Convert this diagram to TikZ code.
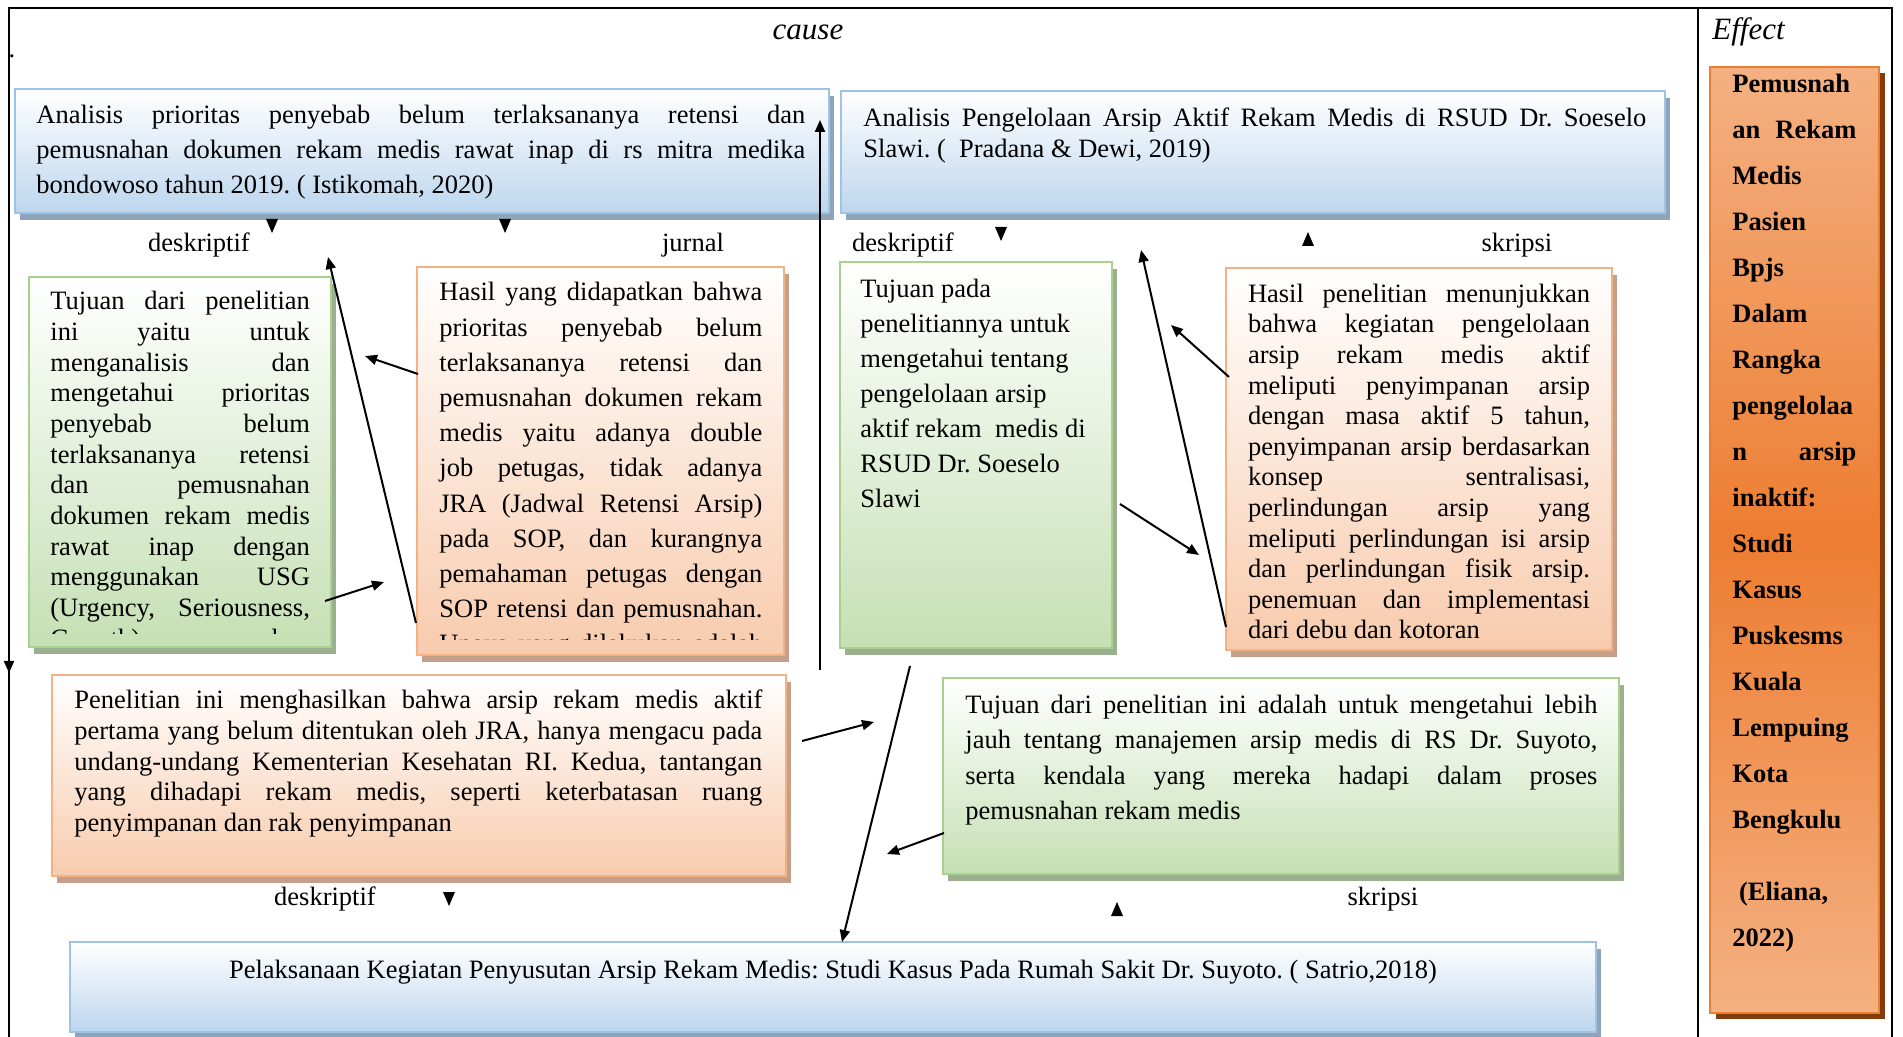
\documentclass[tikz,border=0pt]{standalone}
\usepackage{fontspec}
\setmainfont{Liberation Serif}
\frenchspacing
\usetikzlibrary{arrows.meta,fit,shadows}
\definecolor{bluebot}{HTML}{BDD6EE}
\definecolor{blueline}{HTML}{9DC3E6}
\definecolor{blueshadow}{HTML}{8FA4B8}
\definecolor{greenbot}{HTML}{C5E0B4}
\definecolor{greenline}{HTML}{A9D18E}
\definecolor{greenshadow}{HTML}{9CAF91}
\definecolor{orangebot}{HTML}{F8CBAD}
\definecolor{orangeline}{HTML}{F4B183}
\definecolor{orangeshadow}{HTML}{C4A08B}
\definecolor{effmid}{HTML}{ED7D31}
\definecolor{effedge}{HTML}{F4B183}
\definecolor{effshadow}{HTML}{843C0C}
\newcommand{\jtext}[2]{\vtop{\hsize=#1\relax #2}}
\newcommand{\J}[1]{\hbox to\hsize{#1}}
\newcommand{\N}[1]{\hbox{#1}}
\newcommand{\fs}[1]{\fontsize{13.25}{#1}\selectfont\frenchspacing}
\tikzset{
  boxbase/.style={inner sep=0pt, line width=1pt},
  bluebox/.style={boxbase, draw=blueline, top color=white, bottom color=bluebot,
    drop shadow={shadow xshift=2.5pt, shadow yshift=-3.5pt, fill=blueshadow, opacity=1}},
  greenbox/.style={boxbase, draw=greenline, top color=white, bottom color=greenbot,
    drop shadow={shadow xshift=2.5pt, shadow yshift=-3.5pt, fill=greenshadow, opacity=1}},
  orangebox/.style={boxbase, draw=orangeline, top color=white, bottom color=orangebot,
    drop shadow={shadow xshift=2.5pt, shadow yshift=-3.5pt, fill=orangeshadow, opacity=1}},
  effbox/.style={boxbase, draw=effmid, top color=effedge, bottom color=effedge, middle color=effmid,
    drop shadow={shadow xshift=3pt, shadow yshift=-3pt, fill=effshadow, opacity=1}},
  txt/.style={inner sep=0pt, anchor=base west},
  lbl/.style={inner sep=0pt, font=\fs{16}},
  ital/.style={inner sep=0pt, font=\fontsize{15.5}{18}\selectfont\itshape},
  frame/.style={line width=1.2pt},
  arr/.style={line width=1pt, -{Triangle[length=6pt,width=5pt]}},
  tridown/.pic={\fill (-6,-7) -- (6,-7) -- (0,7) -- cycle;},
  triup/.pic={\fill (-6,7) -- (6,7) -- (0,-7) -- cycle;}
}
\begin{document}
\begin{tikzpicture}[x=0.5pt,y=-0.5pt]
\useasboundingbox (0,0) rectangle (1903,1037);
% frame
\draw[frame] (1892,1037) -- (1892,8) -- (9,8) -- (9,1037);
\draw[frame] (1698,8) -- (1698,1037);
\node[ital] (cause) at (808,32) {cause};
\node[ital, anchor=west] (effect) at (1712,32) {Effect};
\node[inner sep=0pt, font=\fs{16}] (dot) at (12,56) {.};

% boxes
\node[bluebox, fit={(15,89) (829,213)}] (A) {};
\node[bluebox, fit={(841,91) (1665,213)}] (B) {};
\node[greenbox, fit={(29,277) (331,647)}] (C) {};
\node[orangebox, fit={(417,267) (784,655)}] (D) {};
\node[greenbox, fit={(840,262) (1112,648)}] (E) {};
\node[orangebox, fit={(1226,268) (1612,650)}] (F) {};
\node[orangebox, fit={(52,675) (786,876)}] (G) {};
\node[greenbox, fit={(943,678) (1619,874)}] (H) {};
\node[bluebox, fit={(70,942) (1596,1032)}] (I) {};
\node[effbox, fit={(1710,67) (1879,1013)}] (J) {};

% texts
\node[txt, font=\fs{17.3}] (At) at (36,124) {\jtext{384.5pt}{%
\J{Analisis prioritas penyebab belum terlaksananya retensi dan}
\J{pemusnahan dokumen rekam medis rawat inap di rs mitra medika}
\N{bondowoso tahun 2019. ( Istikomah, 2020)}}};
\node[txt, font=\fs{15.75}] (Bt) at (863,126.5) {\jtext{391.5pt}{%
\J{Analisis Pengelolaan Arsip Aktif Rekam Medis di RSUD Dr. Soeselo}
\N{Slawi. (\ \ Pradana \& Dewi, 2019)}}};
\begin{scope}
\clip (29,277) rectangle (331,634);
\node[txt, font=\fs{15.35}] (Ct) at (50,309.7) {\jtext{129.75pt}{%
\J{Tujuan dari penelitian}
\J{ini yaitu untuk}
\J{menganalisis dan}
\J{mengetahui prioritas}
\J{penyebab belum}
\J{terlaksananya retensi}
\J{dan pemusnahan}
\J{dokumen rekam medis}
\J{rawat inap dengan}
\J{menggunakan USG}
\J{(Urgency, Seriousness,}
\J{Growth) merupakan}}};
\end{scope}
\begin{scope}
\clip (417,267) rectangle (784,640);
\node[txt, font=\fs{17.6}] (Dt) at (439,301) {\jtext{161.5pt}{%
\J{Hasil yang didapatkan bahwa}
\J{prioritas penyebab belum}
\J{terlaksananya retensi dan}
\J{pemusnahan dokumen rekam}
\J{medis yaitu adanya double}
\J{job petugas, tidak adanya}
\J{JRA (Jadwal Retensi Arsip)}
\J{pada SOP, dan kurangnya}
\J{pemahaman petugas dengan}
\J{SOP retensi dan pemusnahan.}
\J{Upaya yang dilakukan adalah}}};
\end{scope}
\node[txt, font=\fs{17.5}] (Et) at (860,297.5) {\jtext{130pt}{%
\N{Tujuan pada}
\N{penelitiannya untuk}
\N{mengetahui tentang}
\N{pengelolaan arsip}
\N{aktif rekam\ \ medis di}
\N{RSUD Dr. Soeselo}
\N{Slawi}}};
\node[txt, font=\fs{15.3}] (Ft) at (1247.6,302.4) {\jtext{171pt}{%
\J{Hasil penelitian menunjukkan}
\J{bahwa kegiatan pengelolaan}
\J{arsip rekam medis aktif}
\J{meliputi penyimpanan arsip}
\J{dengan masa aktif 5 tahun,}
\J{penyimpanan arsip berdasarkan}
\J{konsep sentralisasi,}
\J{perlindungan arsip yang}
\J{meliputi perlindungan isi arsip}
\J{dan perlindungan fisik arsip.}
\J{penemuan dan implementasi}
\N{dari debu dan kotoran}}};
\node[txt, font=\fs{15.3}] (Gt) at (74,709) {\jtext{344pt}{%
\J{Penelitian ini menghasilkan bahwa arsip rekam medis aktif}
\J{pertama yang belum ditentukan oleh JRA, hanya mengacu pada}
\J{undang-undang Kementerian Kesehatan RI. Kedua, tantangan}
\J{yang dihadapi rekam medis, seperti keterbatasan ruang}
\N{penyimpanan dan rak penyimpanan}}};
\node[txt, font=\fs{17.6}] (Ht) at (965,713.8) {\jtext{316pt}{%
\J{Tujuan dari penelitian ini adalah untuk mengetahui lebih}
\J{jauh tentang manajemen arsip medis di RS Dr. Suyoto,}
\J{serta kendala yang mereka hadapi dalam proses}
\N{pemusnahan rekam medis}}};
\node[inner sep=0pt, anchor=base, font=\fs{16}] (It) at (833,978.5)
  {Pelaksanaan Kegiatan Penyusutan Arsip Rekam Medis: Studi Kasus Pada Rumah Sakit Dr. Suyoto. ( Satrio,2018)};
\node[txt, font=\fs{23}\bfseries] (Jt) at (1732,92.5) {\jtext{62pt}{%
\N{Pemusnah}
\J{an Rekam}
\N{Medis}
\N{Pasien}
\N{Bpjs}
\N{Dalam}
\N{Rangka}
\N{pengelolaa}
\J{n arsip}
\N{inaktif:}
\N{Studi}
\N{Kasus}
\N{Puskesms}
\N{Kuala}
\N{Lempuing}
\N{Kota}
\N{Bengkulu}
\vskip13pt
\N{\ (Eliana,}
\N{2022)}}};

% labels
\node[lbl] (l1) at (199,245) {deskriptif};
\node[lbl] (l2) at (693,245) {jurnal};
\node[lbl] (l3) at (903,245) {deskriptif};
\node[lbl] (l4) at (1517,245) {skripsi};
\node[lbl] (l5) at (325,899) {deskriptif};
\node[lbl] (l6) at (1383,899) {skripsi};

% stray arrowheads
\pic at (272,226) {tridown};
\pic at (505,226) {tridown};
\pic at (1001,234) {tridown};
\pic at (1308,239) {triup};
\pic at (449,899) {tridown};
\pic at (1117,909) {triup};

% connector end points
\coordinate (p1a) at (820,670); \coordinate (p1b) at (820,120);
\coordinate (p2a) at (416,623); \coordinate (p2b) at (328,257);
\coordinate (p3a) at (418,374); \coordinate (p3b) at (365,356);
\coordinate (p4a) at (325,601); \coordinate (p4b) at (384,582);
\coordinate (p5a) at (1226,627); \coordinate (p5b) at (1141,250);
\coordinate (p6a) at (1229,377); \coordinate (p6b) at (1171,325);
\coordinate (p7a) at (1120,504); \coordinate (p7b) at (1199,555);
\coordinate (p8a) at (910,666); \coordinate (p8b) at (842,942);
\coordinate (p9a) at (802,741); \coordinate (p9b) at (874,722);
\coordinate (p10a) at (944,833); \coordinate (p10b) at (887,854);
\coordinate (p11a) at (9,560); \coordinate (p11b) at (9,673);

\draw[arr] (p1a) -- (p1b);
\draw[arr] (p2a) -- (p2b);
\draw[arr] (p3a) -- (p3b);
\draw[arr] (p4a) -- (p4b);
\draw[arr] (p5a) -- (p5b);
\draw[arr] (p6a) -- (p6b);
\draw[arr] (p7a) -- (p7b);
\draw[arr] (p8a) -- (p8b);
\draw[arr] (p9a) -- (p9b);
\draw[arr] (p10a) -- (p10b);
\draw[arr] (p11a) -- (p11b);
\end{tikzpicture}
\end{document}
